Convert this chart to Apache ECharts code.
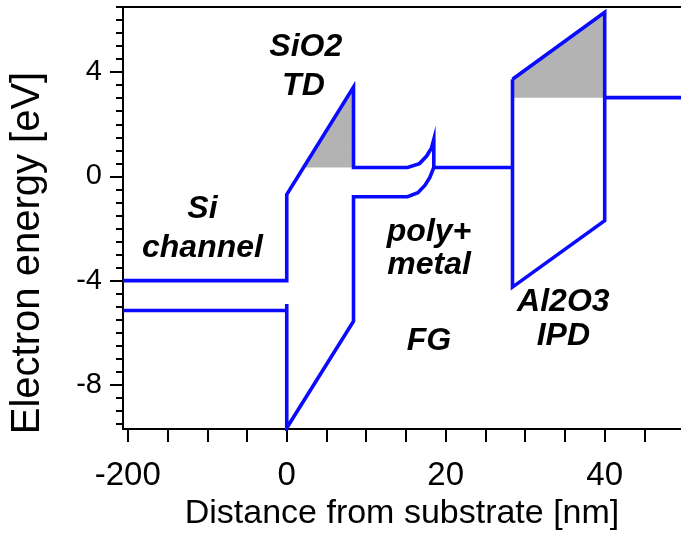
<!DOCTYPE html>
<html>
<head>
<meta charset="utf-8">
<script src="https://cdn.jsdelivr.net/npm/echarts@6/dist/echarts.min.js"></script>
<style>
  html, body { margin: 0; padding: 0; background: #fff; }
  #chart { width: 681px; height: 536px; }
</style>
</head>
<body>
<div id="chart"></div>
<script>
// Band diagram of a floating-gate cell: Si channel / SiO2 tunnel oxide /
// poly+metal floating gate / Al2O3 inter-poly dielectric / control gate.
// x positions in nm (the Si channel is drawn compressed, -20 is labelled -200).

// Conduction band edge through channel, tunnel oxide and floating gate
const conductionBand = [
  [-20.6, -4.0], [0, -4.0], [0, -0.7], [8.4, 3.43], [8.4, 0.34],
  [15.2, 0.34], [16.7, 0.49], [17.6, 0.78], [18.2, 1.08], [18.5, 1.42],
  [18.5, 0.34], [28.4, 0.34]
];
// Valence band edge in the Si channel
const channelValence = [[-20.6, -5.15], [0, -5.15]];
// Tunnel oxide valence edge and lower floating-gate level
const oxideValence = [
  [0, -4.9], [0, -9.66], [8.4, -5.56], [8.4, -0.78],
  [15.2, -0.78], [16.5, -0.63], [17.4, -0.34], [18.0, -0.04], [18.5, 0.34]
];
// Al2O3 inter-poly dielectric band outline
const ipdOutline = [[28.4, 3.73], [40, 6.3], [40, -1.7], [28.4, -4.25], [28.4, 3.73]];
// Control gate level
const gateLevel = [[40, 3.02], [49.6, 3.02]];

// Shaded barrier regions above the injection level
const tdBarrier = [[2.1, 0.34], [8.4, 3.43], [8.4, 0.34]];
const ipdBarrier = [[28.4, 3.02], [28.4, 3.73], [40, 6.3], [40, 3.02]];

// Region annotations: [x, y, text]
const regionLabels = [
  [2.4, 4.96, 'SiO2'], [2.1, 3.47, 'TD'],
  [-10.6, -1.27, 'Si'], [-10.6, -2.76, 'channel'],
  [17.9, -2.13, 'poly+'], [17.9, -3.40, 'metal'], [17.9, -6.31, 'FG'],
  [34.8, -4.81, 'Al2O3'], [34.8, -6.12, 'IPD']
];

// Axis ticks and labels
const xTicks = [-20, -15, -10, -5, 0, 5, 10, 15, 20, 25, 30, 35, 40, 45];
const xLabelValues = [-20, 0, 20, 40];
const xLabelText = { '-20': '-200', '0': '0', '20': '20', '40': '40' };
const yMajor = [-8, -4, 0, 4];
const yMinor = [];
for (let v = -9.5; v <= 6.5; v += 0.5) yMinor.push(v);

const X_MIN = -20.6, X_MAX = 49.6, Y_MIN = -9.7, Y_MAX = 6.5;
const FONT = '"Liberation Sans", Arial, sans-serif';
const BLUE = '#0a0aff';
const GRAY = '#b3b3b3';

const chart = echarts.init(document.getElementById('chart'), null, { renderer: 'canvas' });

function bandLine(data) {
  return {
    type: 'line', data: data, showSymbol: false, symbol: 'none', z: 5,
    animation: false, silent: true,
    lineStyle: { color: BLUE, width: 3.6, join: 'miter', cap: 'butt' }
  };
}

function shade(points) {
  return {
    type: 'custom', z: 2, animation: false, silent: true,
    data: [0],
    renderItem: function (params, api) {
      return {
        type: 'polygon',
        shape: { points: points.map(p => api.coord(p)) },
        style: { fill: GRAY, stroke: null }
      };
    }
  };
}

const axisLineStyle = { color: '#000', width: 2 };

chart.setOption({
  backgroundColor: '#fff',
  animation: false,
  grid: { left: 123, right: 0, top: 7, bottom: 95, containLabel: false },
  xAxis: [
    {
      type: 'value', min: X_MIN, max: X_MAX, position: 'bottom',
      name: 'Distance from substrate [nm]', nameLocation: 'middle', nameGap: 55,
      nameTextStyle: { fontFamily: FONT, fontSize: 34, color: '#000' },
      axisLine: { show: true, onZero: false, lineStyle: axisLineStyle },
      axisTick: { show: true, inside: false, length: 13, customValues: xTicks,
                  lineStyle: { color: '#000', width: 2 } },
      axisLabel: { show: true, customValues: xLabelValues, margin: 30,
                   fontFamily: FONT, fontSize: 33, color: '#000',
                   formatter: v => xLabelText[String(v)] },
      splitLine: { show: false }
    },
    {
      type: 'value', min: X_MIN, max: X_MAX, position: 'top',
      axisLine: { show: true, onZero: false, lineStyle: axisLineStyle },
      axisTick: { show: false }, axisLabel: { show: false }, splitLine: { show: false }
    }
  ],
  yAxis: [
    {
      type: 'value', min: Y_MIN, max: Y_MAX, position: 'left',
      axisLine: { show: true, onZero: false, lineStyle: axisLineStyle },
      axisTick: { show: true, inside: false, length: 13, customValues: yMajor,
                  lineStyle: { color: '#000', width: 2 } },
      axisLabel: { show: true, customValues: yMajor, margin: 21,
                   fontFamily: FONT, fontSize: 29, color: '#000' },
      splitLine: { show: false }
    },
    {
      type: 'value', min: Y_MIN, max: Y_MAX, position: 'left',
      axisLine: { show: false, onZero: false },
      axisTick: { show: true, inside: false, length: 7, customValues: yMinor,
                  lineStyle: { color: '#000', width: 2 } },
      axisLabel: { show: false }, splitLine: { show: false }
    }
  ],
  graphic: [
    {
      type: 'text', x: 28, y: 253, rotation: Math.PI / 2,
      style: { text: 'Electron energy [eV]', fontFamily: FONT, fontSize: 40,
               fill: '#000', align: 'center', verticalAlign: 'middle' }
    }
  ],
  series: [
    shade(tdBarrier),
    shade(ipdBarrier),
    bandLine(conductionBand),
    bandLine(channelValence),
    bandLine(oxideValence),
    bandLine(ipdOutline),
    bandLine(gateLevel),
    {
      type: 'scatter', data: regionLabels, symbolSize: 0, z: 10,
      animation: false, silent: true,
      itemStyle: { opacity: 1 },
      label: {
        show: true, position: 'inside', formatter: p => p.data[2],
        fontFamily: FONT, fontSize: 32, fontWeight: 'bold', fontStyle: 'italic',
        color: '#000', opacity: 1, textBorderWidth: 0, textBorderColor: 'transparent'
      }
    }
  ]
});
</script>
</body>
</html>
